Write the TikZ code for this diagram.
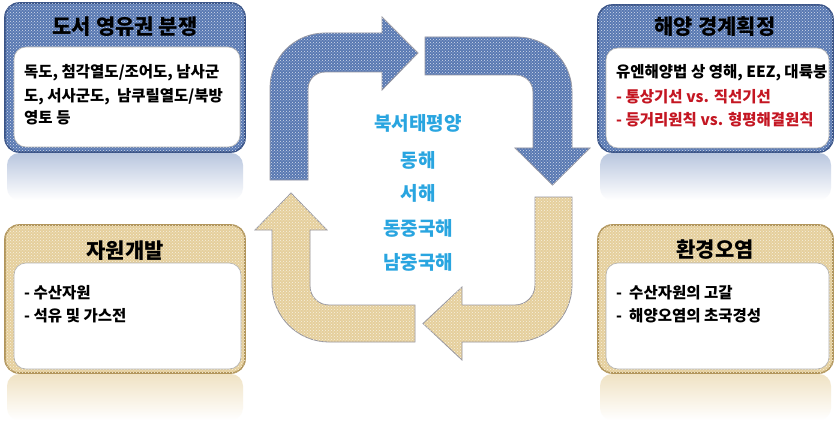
\documentclass[tikz,border=0pt]{standalone}
\usepackage{fontspec}
\newfontfamily\kr{Noto Sans CJK KR}
\usetikzlibrary{patterns,calc}
\definecolor{denim}{RGB}{88,120,178}
\definecolor{denimdark}{RGB}{58,84,136}
\definecolor{tanc}{RGB}{229,207,156}
\definecolor{tandark}{RGB}{178,150,92}
\definecolor{seablue}{RGB}{41,165,224}
\definecolor{redtxt}{RGB}{196,22,34}
\definecolor{arrowedge}{RGB}{150,150,160}
\begin{document}
\begin{tikzpicture}[x=1pt,y=-1pt,
  bluetex/.style={fill=denim, postaction={pattern=crosshatch dots, pattern color=white!75!denim}},
  tantex/.style={fill=tanc, postaction={pattern=crosshatch dots, pattern color=white!70!tanc}},
  blueframe/.style={bluetex, draw=denimdark, line width=1.6pt, rounded corners=14pt},
  tanframe/.style={tantex, draw=tandark, line width=1.6pt, rounded corners=14pt},
  inner/.style={fill=white, draw=black!30, line width=0.6pt, rounded corners=12pt},
  titletxt/.style={font=\kr\bfseries\fontsize{21}{25}\selectfont, text=black},
  bodytxt/.style={font=\kr\bfseries\fontsize{15.5}{18}\selectfont, text=black, anchor=base west, inner sep=0pt},
  redbody/.style={bodytxt, text=redtxt},
  seatxt/.style={font=\kr\bfseries\fontsize{19}{23}\selectfont, text=seablue},
  arrowline/.style={draw=arrowedge, line width=0.8pt, line join=miter}
]
\useasboundingbox (0,0) rectangle (835,425);
\fill[white] (0,0) rectangle (835,425);

% reflections
\shade[top color=denim!42!white, bottom color=white, rounded corners=12pt] (7,153) rectangle (243,200);
\shade[top color=denim!42!white, bottom color=white, rounded corners=12pt] (600,153) rectangle (831,200);
\shade[top color=tanc!60!white, bottom color=white, rounded corners=12pt] (7,374) rectangle (243,420);
\shade[top color=tanc!60!white, bottom color=white, rounded corners=12pt] (600,374) rectangle (831,420);

% boxes
\path[blueframe] (5,3) rectangle (245,152);
\path[inner] (14,47) rectangle (240,147);
\path[blueframe] (598,5) rectangle (833,152);
\path[inner] (606,48) rectangle (829,148);
\path[tanframe] (5,225) rectangle (245,373);
\path[inner] (14,263) rectangle (241,369);
\path[tanframe] (598,225) rectangle (833,373);
\path[inner] (606,263) rectangle (829,369);

% arrows
\path[bluetex, arrowline] (270,180) -- (270,88) .. controls (270,57.6) and (294.6,33) .. (325,33)
  -- (382,33) -- (382,17) -- (418,53) -- (382,90) -- (382,72) -- (325,72)
  .. controls (315.6,72) and (308,79.6) .. (308,89) -- (308,180) -- cycle;
\path[bluetex, arrowline] (425,37) -- (517,37) .. controls (547.4,37) and (572,61.6) .. (572,92)
  -- (572,148) -- (590,148) -- (552.5,185) -- (515,148) -- (533,148) -- (533,92)
  .. controls (533,82.6) and (525.4,75) .. (516,75) -- (425,75) -- cycle;
\path[tantex, arrowline] (535,197) -- (572,197) -- (572,285) .. controls (572,316.5) and (546.5,342) .. (515,342)
  -- (462,342) -- (462,360) -- (423,323.5) -- (462,287) -- (462,305) -- (515,305)
  .. controls (526,305) and (535,296) .. (535,285) -- cycle;
\path[tantex, arrowline] (415,305) -- (329,305) .. controls (318.5,305) and (310,296.5) .. (310,286)
  -- (310,230) -- (327,230) -- (291,193) -- (255,230) -- (272,230) -- (272,285)
  .. controls (272,316.5) and (297.5,342) .. (329,342) -- (415,342) -- cycle;

% titles
\node[titletxt] (t1) at (125,27) {도서 영유권 분쟁};
\node[titletxt] (t2) at (715,27) {해양 경계획정};
\node[titletxt] (t3) at (125,251) {자원개발};
\node[titletxt] (t4) at (715,250) {환경오염};

% bodies
\node[bodytxt] (a1) at (24,78) {독도, 첨각열도/조어도, 남사군};
\node[bodytxt] (a2) at (24,102) {도, 서사군도,\ \ 남쿠릴열도/북방};
\node[bodytxt] (a3) at (24,124) {영토 등};
\node[bodytxt] (b1) at (616,78) {유엔해양법 상\ 영해, EEZ, 대륙붕};
\node[redbody] (b2) at (616,103) {- 통상기선 vs. 직선기선};
\node[redbody] (b3) at (616,126) {- 등거리원칙 vs. 형평해결원칙};
\node[bodytxt] (c1) at (24,298) {- 수산자원};
\node[bodytxt] (c2) at (24,321) {- 석유 및 가스전};
\node[bodytxt] (d1) at (616,298) {-\ \ 수산자원의 고갈};
\node[bodytxt] (d2) at (616,321) {-\ \ 해양오염의 초국경성};

% centre
\node[seatxt] (s1) at (418,123) {북서태평양};
\node[seatxt] (s2) at (418,160) {동해};
\node[seatxt] (s3) at (418,193) {서해};
\node[seatxt] (s4) at (418,228) {동중국해};
\node[seatxt] (s5) at (418,262) {남중국해};
\end{tikzpicture}
\end{document}
